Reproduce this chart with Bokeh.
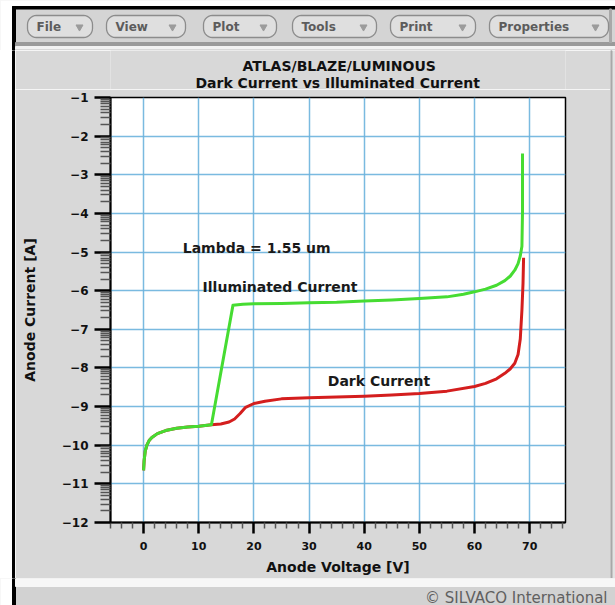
import numpy as np
from bokeh.plotting import figure
from bokeh.models import Range1d, FixedTicker
from bokeh.layouts import column, row
from bokeh.core.properties import value
from bokeh.embed import file_html
from bokeh.resources import INLINE

# ---- simulated I-V sweep (log10 of anode current) ----
dark_voltage = [0, 0.1, 0.3, 0.6, 1.0, 1.5, 2.5, 4, 6, 8, 10, 12.3, 14, 15.5, 16.5,
                17.5, 18.5, 20, 22, 25, 30, 35, 40, 45, 50, 55, 60, 62, 64, 65.5,
                66.5, 67.3, 67.9, 68.3, 68.6, 68.8, 68.9]
dark_current = [-10.65, -10.4, -10.15, -10.0, -9.88, -9.8, -9.7, -9.62, -9.56, -9.53,
                -9.51, -9.47, -9.45, -9.4, -9.32, -9.18, -9.02, -8.92, -8.86, -8.80,
                -8.77, -8.75, -8.73, -8.70, -8.66, -8.60, -8.48, -8.40, -8.28, -8.14,
                -8.02, -7.88, -7.65, -7.25, -6.5, -5.8, -5.15]

illum_voltage = [0, 0.1, 0.3, 0.6, 1.0, 1.5, 2.5, 4, 6, 8, 10, 12.3, 16.2, 18, 20,
                 25, 30, 35, 40, 45, 50, 55, 58, 60, 62, 64, 65.5, 66.5, 67.3, 67.9,
                 68.3, 68.6, 68.7, 68.7]
illum_current = [-10.65, -10.4, -10.15, -10.0, -9.88, -9.8, -9.7, -9.62, -9.56, -9.53,
                 -9.51, -9.47, -6.38, -6.35, -6.34, -6.33, -6.31, -6.30, -6.27, -6.24,
                 -6.20, -6.16, -6.09, -6.03, -5.96, -5.86, -5.74, -5.62, -5.47, -5.3,
                 -5.1, -4.85, -4.0, -2.45]

x_ticks = [0, 10, 20, 30, 40, 50, 60, 70]
y_ticks = [-12, -11, -10, -9, -8, -7, -6, -5, -4, -3, -2, -1]

title_lines = ["ATLAS/BLAZE/LUMINOUS", "Dark Current vs Illuminated Current"]
menu_items = ["File", "View", "Plot", "Tools", "Print", "Properties"]
footer_text = "\u00a9 SILVACO International"

PANEL = "#d8d8d8"
FONT = "DejaVu Sans"

# minor ticks: every 2 V on x, logarithmic steps inside each decade on y
x_minor = [v for v in range(-6, 77, 2) if v % 10 != 0]
y_minor = [d + np.log10(k) for d in range(-12, -1) for k in range(2, 10)]


def chrome(width, height, x0, y0, fill):
    """A bare figure whose data units are window pixels (y grows downwards)."""
    f = figure(width=width, height=height,
               x_range=Range1d(x0, x0 + width), y_range=Range1d(y0 + height, y0),
               output_backend="svg", toolbar_location=None,
               x_axis_location=None, y_axis_location=None,
               min_border=0, outline_line_color=None,
               background_fill_color=fill, border_fill_color=fill)
    f.grid.visible = False
    return f


def rounded(x0, x1, y0, y1, r):
    xs, ys = [], []
    corners = [(x1 - r, y0 + r, -np.pi / 2, 0), (x1 - r, y1 - r, 0, np.pi / 2),
               (x0 + r, y1 - r, np.pi / 2, np.pi), (x0 + r, y0 + r, np.pi, 1.5 * np.pi)]
    for cx, cy, a0, a1 in corners:
        t = np.linspace(a0, a1, 8)
        xs.extend(cx + r * np.cos(t))
        ys.extend(cy + r * np.sin(t))
    return xs, ys


# ---- menu bar ----
header = chrome(615, 50, 0, 0, "#d4d4d4")
header.quad(left=0, right=12, top=0, bottom=50, color="white")
header.quad(left=12, right=615, top=0, bottom=6, color="white")
header.quad(left=12, right=615, top=6, bottom=8.5, color="black")
header.quad(left=12, right=15, top=6, bottom=50, color="black")
header.quad(left=15, right=615, top=42, bottom=46, color="#9a9a9a")
header.quad(left=15, right=615, top=46, bottom=49, color="#f2f2f2")
header.quad(left=15, right=615, top=49, bottom=50, color=PANEL)
header.quad(left=609, right=611, top=8.5, bottom=42, color="#a8a8a8")

button_spans = [(27, 92), (106, 185), (203, 276), (292, 376), (390, 475), (489, 608)]
bx, by = [], []
for x0, x1 in button_spans:
    xs, ys = rounded(x0, x1, 15, 37, 9)
    bx.append(xs)
    by.append(ys)
header.patches(bx, by, fill_color="#dfdfdf", line_color="#8c8c8c", line_width=1.3)
header.text(x=[s[0] + 9 for s in button_spans], y=[26] * len(button_spans), text=menu_items,
            text_font=value(FONT), text_font_style="bold", text_font_size="12px",
            text_color="#5c5c5c", text_baseline="middle", text_align="left")
header.scatter(x=[s[1] - 13 for s in button_spans], y=[26.5] * len(button_spans),
               marker="inverted_triangle", size=7, color="#9c9c9c")

# ---- side strips ----
left_strip = chrome(15, 528, 0, 50, "white")
left_strip.quad(left=12, right=15, top=50, bottom=578, color="black")

right_strip = chrome(5, 528, 610, 50, "#e2e2e2")
right_strip.quad(left=610, right=611.5, top=50, bottom=578, color="#a8a8a8")

# ---- plot titles ----
title_fig = chrome(595, 39, 15, 50, PANEL)
title_fig.text(x=[314, 312], y=[65, 82], text=title_lines,
               text_font=value(FONT), text_font_style="bold", text_font_size="14px",
               text_color="#111111", text_baseline="middle", text_align="center")

# ---- main I-V plot ----
p = figure(width=595, height=489, x_range=Range1d(-6, 76.5), y_range=Range1d(-12, -1),
           output_backend="svg", toolbar_location=None,
           min_border_left=95, min_border_right=45, min_border_top=8, min_border_bottom=56,
           background_fill_color="white", border_fill_color=PANEL,
           x_axis_label="Anode Voltage [V]", y_axis_label="Anode Current [A]")
p.outline_line_color = "black"
p.outline_line_width = 1.5

p.xaxis.ticker = FixedTicker(ticks=x_ticks, minor_ticks=x_minor)
p.yaxis.ticker = FixedTicker(ticks=y_ticks, minor_ticks=y_minor)

for ax in (p.xaxis, p.yaxis):
    ax.axis_line_color = "black"
    ax.axis_line_width = 2
    ax.major_tick_in = 0
    ax.minor_tick_in = 0
    ax.major_tick_line_color = "black"
    ax.major_tick_line_width = 2.5
    ax.minor_tick_line_color = "#555555"
    ax.minor_tick_line_width = 1.5
    ax.major_label_text_font = FONT
    ax.major_label_text_font_style = "bold"
    ax.major_label_text_color = "#111111"
    ax.axis_label_text_font = FONT
    ax.axis_label_text_font_style = "bold"
    ax.axis_label_text_font_size = "14px"
    ax.axis_label_text_color = "#111111"

p.xaxis.major_tick_out = 11
p.xaxis.minor_tick_out = 6
p.xaxis.major_label_standoff = 8
p.xaxis.axis_label_standoff = 6
p.xaxis.major_label_text_font_size = "11px"

p.yaxis.major_tick_out = 16
p.yaxis.minor_tick_out = 10
p.yaxis.major_label_standoff = 6
p.yaxis.axis_label_standoff = 21
p.yaxis.major_label_text_font_size = "12px"

p.grid.grid_line_color = "#6cb2dd"
p.grid.grid_line_width = 1.5
p.grid.grid_line_alpha = 0.9

p.line(dark_voltage, dark_current, line_color="#d41e1e", line_width=3, line_join="round")
p.line(illum_voltage, illum_current, line_color="#46dc32", line_width=3, line_join="round")

p.text(x=[7.1, 10.7, 33.4], y=[-4.89, -5.9, -8.33],
       text=["Lambda = 1.55 um", "Illuminated Current", "Dark Current"],
       text_font=value(FONT), text_font_style="bold", text_font_size="14px",
       text_color="#1a1a1a", text_baseline="middle", text_align="left")

# ---- status bar ----
footer = chrome(615, 27, 0, 578, "#d2d2d2")
footer.quad(left=0, right=12, top=578, bottom=605, color="white")
footer.quad(left=12, right=15, top=578, bottom=605, color="black")
footer.quad(left=15, right=615, top=578, bottom=586, color="#f7f7f7")
footer.text(x=[607], y=[597], text=[footer_text],
            text_font=value(FONT), text_font_size="15px",
            text_color="#606060", text_baseline="middle", text_align="right")

page = column(header,
              row(left_strip, column(title_fig, p, spacing=0), right_strip, spacing=0),
              footer, spacing=0)

open("out.html", "w").write(file_html(page, INLINE))
